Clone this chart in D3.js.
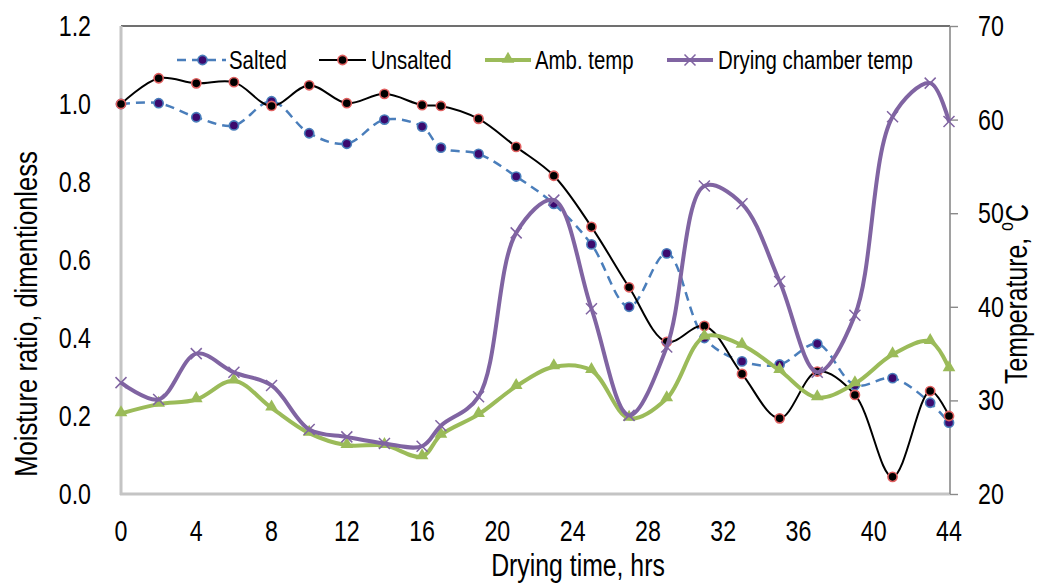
<!DOCTYPE html>
<html><head><meta charset="utf-8">
<script src="https://cdn.jsdelivr.net/npm/d3@7"></script>
<style>html,body{margin:0;padding:0;background:#fff}svg{display:block}text{font-family:"Liberation Sans",Arial,sans-serif;fill:#000}</style>
</head><body>
<svg id="c" width="1042" height="583"></svg>
<script>
const hours = [0,2,4,6,8,10,12,14,16,17,19,21,23,25,27,29,31,33,35,37,39,41,43,44];
const salted = [1.0,1.002,0.966,0.945,1.007,0.925,0.898,0.96,0.942,0.888,0.872,0.814,0.744,0.64,0.48,0.617,0.40,0.34,0.332,0.385,0.279,0.297,0.234,0.183];
const unsalted = [1.0,1.066,1.053,1.056,0.995,1.048,1.002,1.026,0.997,0.995,0.962,0.89,0.816,0.685,0.53,0.39,0.431,0.308,0.194,0.314,0.254,0.044,0.264,0.2];
const ambTemp = [28.6,29.6,30.1,32.1,29.2,26.5,25.2,25.2,24.0,26.3,28.5,31.5,33.6,33.2,28.1,30.2,36.8,35.9,33.2,30.3,31.8,34.9,36.3,33.4];
const chamberTemp = [31.9,30.1,35.0,33.0,31.6,26.9,26.1,25.4,25.1,27.3,30.4,47.9,51.4,39.8,28.4,35.7,52.9,51.0,42.7,33.0,39.1,60.3,63.9,59.8];
const xTicks = [0,4,8,12,16,20,24,28,32,36,40,44];
const yLeftTicks = [0,0.2,0.4,0.6,0.8,1.0,1.2];
const yRightTicks = [20,30,40,50,60,70];
const seriesNames = ["Salted","Unsalted","Amb. temp","Drying chamber temp"];

const svg = d3.select("#c");
const L=121, R=949, T=26, B=494;
const SX = 0.8;
const x = d3.scaleLinear().domain([0,44]).range([L,R]);
const yL = d3.scaleLinear().domain([0,1.2]).range([B,T]);
const yR = d3.scaleLinear().domain([20,70]).range([B,T]);

function txt(g, str, px, py, size, anchor, rot){
  const t = g.append("text")
    .attr("transform", `translate(${px},${py})` + (rot?` rotate(${rot})`:"") + ` scale(${SX},1)`)
    .attr("font-size", size).attr("text-anchor", anchor||"start").attr("dominant-baseline","central");
  t.text(str);
  return t;
}

// frame
svg.append("line").attr("x1",L).attr("x2",R+1).attr("y1",T).attr("y2",T).attr("stroke","#404040").attr("stroke-width",1.3);
svg.append("line").attr("x1",L).attr("x2",L).attr("y1",T).attr("y2",B+1).attr("stroke","#c4c4c4").attr("stroke-width",3);
svg.append("line").attr("x1",L-1).attr("x2",R+1).attr("y1",B).attr("y2",B).attr("stroke","#c4c4c4").attr("stroke-width",3);
// right axis
const rAx = svg.append("g").attr("transform",`translate(${R+1},0)`)
  .call(d3.axisRight(yR).tickValues(yRightTicks).tickSize(8).tickFormat(""));
rAx.select(".domain").attr("stroke","#8a8a8a").attr("stroke-width",1.6).attr("d",`M0,${T}V${B}`);
rAx.selectAll(".tick line").attr("stroke","#8a8a8a").attr("stroke-width",1.4);

// tick labels
const lab = svg.append("g");
yLeftTicks.forEach(v => txt(lab, d3.format(".1f")(v), 91, yL(v), 29, "end"));
yRightTicks.forEach(v => txt(lab, String(v), 978, yR(v), 29, "start"));
xTicks.forEach(v => txt(lab, String(v), x(v), 531, 29, "middle"));

// axis titles
txt(lab, "Drying time, hrs", 578, 566, 31, "middle");
txt(lab, "Moisture ratio, dimentionless", 26, 314, 32, "middle", -90);
const rt = txt(lab, "Temperature, ", 1017, 294, 31, "middle", -90);
rt.append("tspan").attr("baseline-shift","super").attr("font-size",20).text("o");
rt.append("tspan").text("C");

// series
const curve = d3.curveCatmullRom.alpha(0.5);
const ptsS = hours.map((h,i)=>[x(h), yL(salted[i])]);
const ptsU = hours.map((h,i)=>[x(h), yL(unsalted[i])]);
const ptsA = hours.map((h,i)=>[x(h), yR(ambTemp[i])]);
const ptsC = hours.map((h,i)=>[x(h), yR(chamberTemp[i])]);
const line = d3.line().curve(curve);

const colS="#4a7ebb", colU="#000000", colA="#9bbb59", colC="#8064a2";
const circFillS="#3c0a6e", circStrokeU="#e06060";

function circles(g, pts, fill, stroke){
  g.selectAll(null).data(pts).join("circle").attr("cx",d=>d[0]).attr("cy",d=>d[1]).attr("r",4.6)
   .attr("fill",fill).attr("stroke",stroke).attr("stroke-width",1.6);
}
const triPath = d3.symbol().type(d3.symbolTriangle).size(70)();
function triangles(g, pts){
  g.selectAll(null).data(pts).join("path").attr("d",triPath)
   .attr("transform",d=>`translate(${d[0]},${d[1]-1})`).attr("fill",colA);
}
function crosses(g, pts){
  g.selectAll(null).data(pts).join("path")
   .attr("d","M-5.5,-5.5L5.5,5.5M-5.5,5.5L5.5,-5.5")
   .attr("transform",d=>`translate(${d[0]},${d[1]})`).attr("stroke",colC).attr("stroke-width",1.5).attr("fill","none");
}

const gS = svg.append("g");
gS.append("path").attr("d",line(ptsS)).attr("fill","none").attr("stroke",colS).attr("stroke-width",2.5).attr("stroke-dasharray","9,6");
circles(gS, ptsS, circFillS, colS);
const gU = svg.append("g");
gU.append("path").attr("d",line(ptsU)).attr("fill","none").attr("stroke",colU).attr("stroke-width",2);
circles(gU, ptsU, "#000", circStrokeU);
const gA = svg.append("g");
gA.append("path").attr("d",line(ptsA)).attr("fill","none").attr("stroke",colA).attr("stroke-width",4);
triangles(gA, ptsA);
const gC = svg.append("g");
gC.append("path").attr("d",line(ptsC)).attr("fill","none").attr("stroke",colC).attr("stroke-width",4);
crosses(gC, ptsC);

// legend
const lg = svg.append("g");
const ly = 60;
const items = [
  {x0:177,x1:226,tx:229},
  {x0:319,x1:366,tx:371},
  {x0:485,x1:531,tx:535},
  {x0:667,x1:713,tx:718}
];
lg.append("line").attr("x1",items[0].x0).attr("x2",items[0].x1).attr("y1",ly).attr("y2",ly).attr("stroke",colS).attr("stroke-width",2.5).attr("stroke-dasharray","9,6");
circles(lg.append("g"), [[(items[0].x0+items[0].x1)/2+1, ly]], circFillS, colS);
lg.append("line").attr("x1",items[1].x0).attr("x2",items[1].x1).attr("y1",ly).attr("y2",ly).attr("stroke",colU).attr("stroke-width",2);
circles(lg.append("g"), [[(items[1].x0+items[1].x1)/2, ly]], "#000", circStrokeU);
lg.append("line").attr("x1",items[2].x0).attr("x2",items[2].x1).attr("y1",ly).attr("y2",ly).attr("stroke",colA).attr("stroke-width",4);
triangles(lg.append("g"), [[(items[2].x0+items[2].x1)/2, ly]]);
lg.append("line").attr("x1",items[3].x0).attr("x2",items[3].x1).attr("y1",ly).attr("y2",ly).attr("stroke",colC).attr("stroke-width",4);
crosses(lg.append("g"), [[(items[3].x0+items[3].x1)/2, ly]]);
seriesNames.forEach((n,i)=> txt(lg, n, items[i].tx, ly, 25.5, "start"));
</script>
</body></html>
